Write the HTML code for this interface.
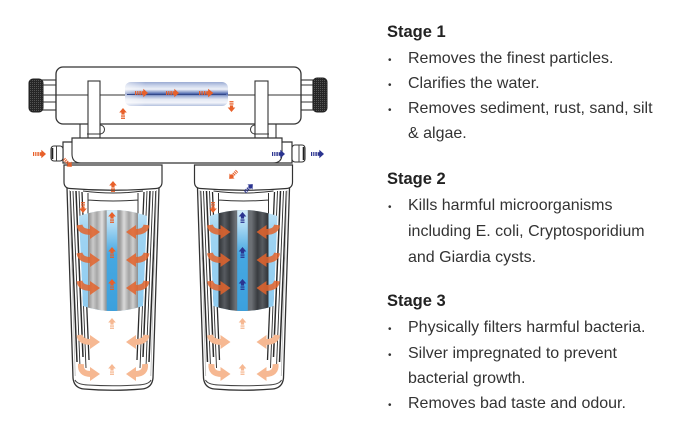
<!DOCTYPE html>
<html><head><meta charset="utf-8">
<style>
html,body{margin:0;padding:0;background:#fff;}
body{width:690px;height:432px;overflow:hidden;}
svg{display:block;}
.t{font-family:"Liberation Sans",sans-serif;font-size:16px;fill:#333;}
.b{font-family:"Liberation Sans",sans-serif;font-size:10px;fill:#333;}
.h{font-family:"Liberation Sans",sans-serif;font-size:16.5px;font-weight:bold;fill:#222;}
</style></head><body>
<svg width="690" height="432" viewBox="0 0 690 432" xmlns="http://www.w3.org/2000/svg">
<defs>
  <pattern id="kn" width="2" height="2" patternUnits="userSpaceOnUse">
    <rect width="2" height="2" fill="#262626"/><rect width="1" height="1" fill="#555"/>
  </pattern>
  <linearGradient id="tube" x1="0" y1="0" x2="0" y2="1">
    <stop offset="0" stop-color="#9aabd3"/>
    <stop offset="0.15" stop-color="#c9d3ea"/>
    <stop offset="0.3" stop-color="#eef1f8"/>
    <stop offset="0.42" stop-color="#8ea0cd"/>
    <stop offset="0.5" stop-color="#465fa8"/>
    <stop offset="0.58" stop-color="#9aabd3"/>
    <stop offset="0.72" stop-color="#e4e9f4"/>
    <stop offset="0.86" stop-color="#f2f4fa"/>
    <stop offset="1" stop-color="#b3c0de"/>
  </linearGradient>
  <linearGradient id="tubefade" x1="0" y1="0" x2="1" y2="0">
    <stop offset="0" stop-color="#fff" stop-opacity="0.55"/>
    <stop offset="0.2" stop-color="#fff" stop-opacity="0"/>
    <stop offset="1" stop-color="#fff" stop-opacity="0"/>
  </linearGradient>
  <linearGradient id="blu" x1="0" y1="0" x2="0" y2="1">
    <stop offset="0" stop-color="#d3ecf9"/>
    <stop offset="0.25" stop-color="#9fd4f2"/>
    <stop offset="1" stop-color="#8ccaf0"/>
  </linearGradient>
  <linearGradient id="gry" x1="0" y1="0" x2="1" y2="0">
    <stop offset="0" stop-color="#8b8b8b"/>
    <stop offset="0.1" stop-color="#cacaca"/>
    <stop offset="0.18" stop-color="#a6a6a6"/>
    <stop offset="0.28" stop-color="#e0e0e0"/>
    <stop offset="0.36" stop-color="#989898"/>
    <stop offset="0.64" stop-color="#9e9e9e"/>
    <stop offset="0.72" stop-color="#dadada"/>
    <stop offset="0.82" stop-color="#a2a2a2"/>
    <stop offset="0.9" stop-color="#d0d0d0"/>
    <stop offset="1" stop-color="#8d8d8d"/>
  </linearGradient>
  <linearGradient id="dgr" x1="0" y1="0" x2="1" y2="0">
    <stop offset="0" stop-color="#2e3135"/>
    <stop offset="0.12" stop-color="#575b60"/>
    <stop offset="0.22" stop-color="#383b3f"/>
    <stop offset="0.34" stop-color="#6c7075"/>
    <stop offset="0.66" stop-color="#6c7075"/>
    <stop offset="0.78" stop-color="#383b3f"/>
    <stop offset="0.88" stop-color="#575b60"/>
    <stop offset="1" stop-color="#2e3135"/>
  </linearGradient>
  <linearGradient id="ctr" x1="0" y1="0" x2="0" y2="1">
    <stop offset="0" stop-color="#eef8fd"/>
    <stop offset="0.22" stop-color="#a9d8f3"/>
    <stop offset="0.45" stop-color="#46a8e2"/>
    <stop offset="1" stop-color="#3a9fdc"/>
  </linearGradient>
  <clipPath id="cc"><path d="M79,216 Q113,204 147,216 L143,306 Q113,316 83,306 Z"/></clipPath>
  <g id="ar">
    <rect x="0" y="-2" width="1.2" height="4"/>
    <rect x="2.2" y="-2" width="1.2" height="4"/>
    <rect x="4.4" y="-2" width="1.4" height="4"/>
    <rect x="6.6" y="-1.8" width="2.2" height="3.6"/>
    <polygon points="8.3,-4.2 13,0 8.3,4.2"/>
  </g>
  <g id="au">
    <polygon points="-3.8,4.5 0,0 3.8,4.5"/>
    <rect x="-1.6" y="4.4" width="3.2" height="2.2"/>
    <rect x="-2" y="7.4" width="4" height="1.3"/>
    <rect x="-2" y="9.6" width="4" height="1.3"/>
  </g>
  <g id="can">
    <g stroke="#2b2b2b" fill="none">
      <path d="M70,191 L77,362" stroke-width="1.5"/>
      <path d="M73,191 L80,367" stroke-width="0.9"/>
      <path d="M76,191 L83,357" stroke-width="1.5"/>
      <path d="M79,191 L86,368" stroke-width="0.9"/>
      <path d="M82,192 L89,360" stroke-width="1.3"/>
      <path d="M156,191 L149,362" stroke-width="1.5"/>
      <path d="M153,191 L146,367" stroke-width="0.9"/>
      <path d="M150,191 L143,357" stroke-width="1.5"/>
      <path d="M147,191 L140,368" stroke-width="0.9"/>
      <path d="M144,192 L137,360" stroke-width="1.3"/>
    </g>
    <path d="M83,191 Q113,195 143,191 M88,193 V214 M138,193 V214 M88,200 Q113,202 138,200" stroke="#333" stroke-width="1" fill="none"/>
    <path d="M67,188 L73,378 Q74,388 84,389 Q113,391.5 142,389 Q152,388 153,378 L159,188" fill="none" stroke="#333" stroke-width="1.3"/>
    <path d="M69.5,190 L75.2,376 M156.5,190 L150.8,376" fill="none" stroke="#bbb" stroke-width="0.8"/>
    <path d="M75,380 Q77,384.5 88,385 Q113,386.5 138,385 Q149,384.5 151,380" fill="none" stroke="#444" stroke-width="1"/>
    <path d="M64,165 H162 V182 Q162,188 156,188.5 Q113,192 70,188.5 Q64,188 64,182 Z" fill="#fff" stroke="#333" stroke-width="1.2"/>
  </g>
  <g id="curv">
    <path d="M79.5,225 Q80.5,232 91,232" fill="none" stroke-width="6"/>
    <polygon points="90,225 100,232 90,239" stroke="none"/>
    <path d="M146.5,225 Q145.5,232 135,232" fill="none" stroke-width="6"/>
    <polygon points="136,225 126,232 136,239" stroke="none"/>
  </g>
</defs>

<!-- top housing -->
<rect x="41" y="80" width="15" height="30" fill="#fff" stroke="#333" stroke-width="1.1"/>
<path d="M41,85 H56 M41,102 H56" stroke="#333" stroke-width="0.9"/>
<rect x="301" y="80" width="12" height="30" fill="#fff" stroke="#333" stroke-width="1.1"/>
<path d="M301,85 H313 M301,102 H313" stroke="#333" stroke-width="0.9"/>
<rect x="29" y="79" width="14" height="33" rx="4" fill="url(#kn)" stroke="#222" stroke-width="1"/>
<rect x="313" y="78" width="14" height="34" rx="4" fill="url(#kn)" stroke="#222" stroke-width="1"/>
<rect x="56" y="67" width="245" height="57" rx="7" fill="#fff" stroke="#333" stroke-width="1.3"/>
<path d="M41,95 H313" stroke="#333" stroke-width="1.1"/>
<rect x="125" y="82" width="103" height="24" rx="6" fill="url(#tube)"/>
<rect x="125" y="82" width="103" height="24" rx="6" fill="url(#tubefade)"/>
<path d="M127,94.5 H226" stroke="#34498a" stroke-width="1"/>
<!-- posts under housing -->
<path d="M80,124 V138 M276,124 V138" stroke="#333" stroke-width="1.1"/>
<path d="M100,125 A4.5,4.5 0 0 1 100,134" fill="#fff" stroke="#333" stroke-width="1"/>
<path d="M255,125 A4.5,4.5 0 0 0 255,134" fill="#fff" stroke="#333" stroke-width="1"/>
<!-- straps -->
<rect x="88" y="81" width="12" height="57" fill="#fff" stroke="#333" stroke-width="1.1"/>
<path d="M87,134 H101" stroke="#333" stroke-width="1"/>
<rect x="255" y="81" width="13" height="57" fill="#fff" stroke="#333" stroke-width="1.1"/>
<path d="M254,134 H269" stroke="#333" stroke-width="1"/>

<!-- manifold -->
<path d="M63,142 H72 V138 H282 V142 H292 V163 H63 Z" fill="#fff" stroke="#333" stroke-width="1.2"/>
<path d="M72,142 V154 Q72,163 81,163 M282,142 V154 Q282,163 273,163" fill="none" stroke="#333" stroke-width="1.1"/>
<rect x="51" y="146" width="12" height="15" rx="3" fill="#fff" stroke="#333" stroke-width="1.1"/>
<path d="M52.5,148 V159" stroke="#222" stroke-width="1.6"/>
<path d="M56.5,146 V161" stroke="#333" stroke-width="0.9"/>
<rect x="292" y="145" width="13" height="17" rx="3" fill="#fff" stroke="#333" stroke-width="1.1"/>
<path d="M303.5,147 V160" stroke="#222" stroke-width="1.6"/>
<path d="M299,145 V162" stroke="#333" stroke-width="0.9"/>

<!-- canisters -->
<use href="#can"/>
<use href="#can" transform="translate(130.5,0)"/>

<!-- left cartridge -->
<g clip-path="url(#cc)">
  <rect x="75" y="200" width="76" height="120" fill="url(#blu)"/>
  <rect x="88" y="200" width="50" height="120" fill="url(#gry)"/>
  <rect x="106.7" y="200" width="10.6" height="120" fill="url(#ctr)"/>
</g>
<!-- right cartridge -->
<g transform="translate(130.5,0)">
  <g clip-path="url(#cc)">
    <rect x="75" y="200" width="76" height="120" fill="url(#blu)"/>
    <rect x="88" y="200" width="50" height="120" fill="url(#dgr)"/>
    <rect x="106.7" y="200" width="10.6" height="120" fill="url(#ctr)"/>
  </g>
</g>

<!-- cartridge flow arrows -->
<g fill="#e4642c" stroke="#e4642c" opacity="0.85">
  <use href="#curv"/>
  <use href="#curv" transform="translate(0,28)"/>
  <use href="#curv" transform="translate(0,56)"/>
  <use href="#curv" transform="translate(130.5,0)"/>
  <use href="#curv" transform="translate(130.5,28)"/>
  <use href="#curv" transform="translate(130.5,56)"/>
</g>
<g fill="#f6b892" stroke="#f6b892">
  <use href="#curv" transform="translate(0,110)"/>
  <use href="#curv" transform="translate(130.5,110)"/>
  <path d="M81,364 Q80,374 91,374" fill="none" stroke-width="6"/>
  <polygon points="90,367 100,374 90,381" stroke="none"/>
  <path d="M145,364 Q146,374 135,374" fill="none" stroke-width="6"/>
  <polygon points="136,367 126,374 136,381" stroke="none"/>
  <path d="M211.5,364 Q210.5,374 221.5,374" fill="none" stroke-width="6"/>
  <polygon points="220.5,367 230.5,374 220.5,381" stroke="none"/>
  <path d="M275.5,364 Q276.5,374 265.5,374" fill="none" stroke-width="6"/>
  <polygon points="266.5,367 256.5,374 266.5,381" stroke="none"/>
</g>
<g fill="#f6b892">
  <use href="#au" transform="translate(112,318)"/>
  <use href="#au" transform="translate(112,364)"/>
  <use href="#au" transform="translate(242.5,318)"/>
  <use href="#au" transform="translate(242.5,364)"/>
</g>
<g fill="#e8602a">
  <use href="#au" transform="translate(112,212)"/>
  <use href="#au" transform="translate(112,247)"/>
  <use href="#au" transform="translate(112,279)"/>
  <use href="#au" transform="translate(83,213) rotate(180)"/>
  <use href="#au" transform="translate(213,213) rotate(180)"/>
  <use href="#au" transform="translate(113,181)"/>
  <use href="#au" transform="translate(123,108)"/>
  <use href="#au" transform="translate(231.5,112) rotate(180)"/>
  <use href="#ar" transform="translate(135,93)"/>
  <use href="#ar" transform="translate(166,93)"/>
  <use href="#ar" transform="translate(199,93) scale(1.1,1)"/>
  <use href="#ar" transform="translate(33,154)"/>
  <use href="#ar" transform="translate(64,159) rotate(45) scale(0.85)"/>
  <use href="#ar" transform="translate(237,171) rotate(135) scale(0.85)"/>
</g>
<g fill="#2b3490">
  <use href="#au" transform="translate(242.5,212)"/>
  <use href="#au" transform="translate(242.5,247)"/>
  <use href="#au" transform="translate(242.5,279)"/>
  <use href="#ar" transform="translate(272,154)"/>
  <use href="#ar" transform="translate(311,154)"/>
  <use href="#ar" transform="translate(245,192) rotate(-45) scale(0.85)"/>
</g>

<!-- text -->
<text class="h" x="387" y="37">Stage 1</text>
<text class="b" x="388" y="63">•</text>
<text class="t" x="408" y="63">Removes the finest particles.</text>
<text class="b" x="388" y="88">•</text>
<text class="t" x="408" y="88">Clarifies the water.</text>
<text class="b" x="388" y="113">•</text>
<text class="t" x="408" y="113">Removes sediment, rust, sand, silt</text>
<text class="t" x="408" y="138">&amp; algae.</text>

<text class="h" x="387" y="184">Stage 2</text>
<text class="b" x="388" y="210">•</text>
<text class="t" x="408" y="210">Kills harmful microorganisms</text>
<text class="t" x="408" y="236">including E. coli, Cryptosporidium</text>
<text class="t" x="408" y="262">and Giardia cysts.</text>

<text class="h" x="387" y="306">Stage 3</text>
<text class="b" x="388" y="332">•</text>
<text class="t" x="408" y="332">Physically filters harmful bacteria.</text>
<text class="b" x="388" y="358">•</text>
<text class="t" x="408" y="358">Silver impregnated to prevent</text>
<text class="t" x="408" y="383">bacterial growth.</text>
<text class="b" x="388" y="408">•</text>
<text class="t" x="408" y="408">Removes bad taste and odour.</text>
</svg>
</body></html>
